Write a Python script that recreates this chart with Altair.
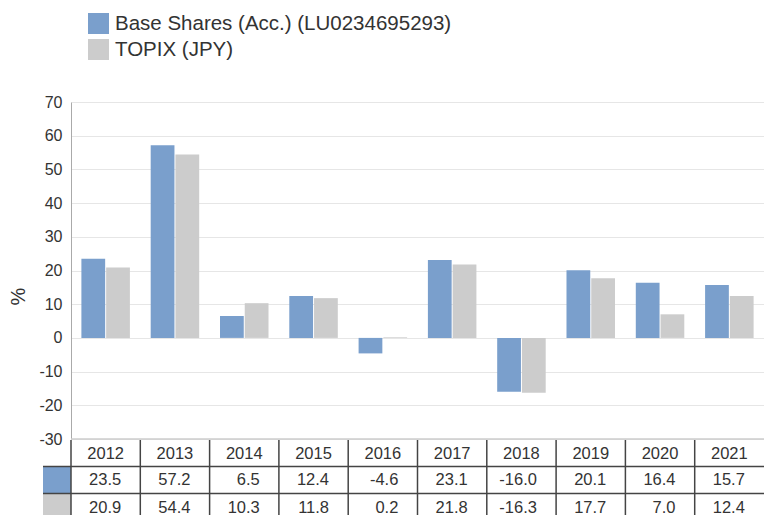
import altair as alt
import pandas as pd

years = ["2012", "2013", "2014", "2015", "2016", "2017", "2018", "2019", "2020", "2021"]
series_names = ["Base Shares (Acc.) (LU0234695293)", "TOPIX (JPY)"]
base_values = [23.5, 57.2, 6.5, 12.4, -4.6, 23.1, -16.0, 20.1, 16.4, 15.7]
topix_values = [20.9, 54.4, 10.3, 11.8, 0.2, 21.8, -16.3, 17.7, 7.0, 12.4]
y_ticks = [-30, -20, -10, 0, 10, 20, 30, 40, 50, 60, 70]

colors = ["#7a9fcc", "#cccccc"]
FONT = "Liberation Sans"
TXT = "#333333"
LINE = "#444444"

rows = []
for name, vals in zip(series_names, [base_values, topix_values]):
    for y, v in zip(years, vals):
        rows.append({"year": y, "series": name, "value": v})
df = pd.DataFrame(rows)
df_years = pd.DataFrame({"year": years})
df_base = pd.DataFrame({"year": years, "label": [f"{v:.1f}" for v in base_values]})
df_topix = pd.DataFrame({"year": years, "label": [f"{v:.1f}" for v in topix_values]})
one = pd.DataFrame({"a": [0]})

W = 693
H = 337

xscale = alt.Scale(paddingInner=0, paddingOuter=0)
yscale = alt.Scale(domain=[-30, 70], nice=False, zero=False)

bars = alt.Chart(df).mark_bar().encode(
    x=alt.X("year:N", sort=years, scale=xscale, axis=None),
    xOffset=alt.XOffset("series:N", sort=series_names,
                        scale=alt.Scale(paddingInner=0.04, paddingOuter=0.42)),
    y=alt.Y("value:Q", scale=yscale,
            axis=alt.Axis(values=y_ticks, tickCount=30, title="%", ticks=False, labelPadding=9,
                          labelOverlap=False, labelExpr="datum.value + ''",
                          labelFontSize=16, labelColor=TXT, labelFont=FONT,
                          domainColor="#aaaaaa", gridColor="#e6e6e6",
                          titleFont=FONT, titleFontSize=20, titleFontWeight="normal",
                          titleColor=TXT, titleX=-53, titleY=194,
                          titleBaseline="middle", titleAlign="center")),
    color=alt.Color("series:N", sort=series_names,
                    scale=alt.Scale(domain=series_names, range=colors),
                    legend=alt.Legend(orient="none", legendX=17, legendY=-89,
                                      title=None, symbolType="square",
                                      symbolSize=441, symbolStrokeWidth=0,
                                      labelFontSize=20.5, labelFont=FONT,
                                      labelColor=TXT, labelOffset=6,
                                      rowPadding=5, labelLimit=600, padding=0)),
)

bottom_rule = alt.Chart(df_years.head(1)).mark_rule(color="#cccccc", strokeWidth=1.5).encode(
    x=alt.value(0), x2=alt.value(W), y=alt.value(H)
)

year_text = alt.Chart(df_years).mark_text(font=FONT, fontSize=16.5, color=TXT,
                                          baseline="middle", align="center").encode(
    x=alt.X("year:N", sort=years),
    y=alt.value(351.5),
    text="year:N",
)

base_text = alt.Chart(df_base).mark_text(font=FONT, fontSize=16.5, color=TXT,
                                         baseline="middle", align="right", dx=15.5).encode(
    x=alt.X("year:N", sort=years),
    y=alt.value(377.5),
    text="label:N",
)

topix_text = alt.Chart(df_topix).mark_text(font=FONT, fontSize=16.5, color=TXT,
                                           baseline="middle", align="right", dx=15.5).encode(
    x=alt.X("year:N", sort=years),
    y=alt.value(405.5),
    text="label:N",
)

vlines = alt.Chart(df_years).mark_rule(color=LINE, strokeWidth=1.5).encode(
    x=alt.X("year:N", sort=years, bandPosition=0),
    y=alt.value(338),
    y2=alt.value(430),
)

hline1 = alt.Chart(one).mark_rule(color=LINE, strokeWidth=1.5).encode(
    x=alt.value(-28), x2=alt.value(W), y=alt.value(364.5)
)
hline2 = alt.Chart(one).mark_rule(color=LINE, strokeWidth=1.5).encode(
    x=alt.value(-28), x2=alt.value(W), y=alt.value(391.5)
)

sw1 = alt.Chart(one).mark_rect(color=colors[0]).encode(
    x=alt.value(-28), x2=alt.value(0), y=alt.value(365), y2=alt.value(391)
)
sw2 = alt.Chart(one).mark_rect(color=colors[1]).encode(
    x=alt.value(-28), x2=alt.value(0), y=alt.value(392), y2=alt.value(430)
)

chart = alt.layer(
    bars, bottom_rule, sw1, sw2, year_text, base_text, topix_text, vlines, hline1, hline2
).properties(
    width=W, height=H,
    autosize=alt.AutoSizeParams(type="none"),
    padding={"left": 63, "top": 94, "right": 0, "bottom": 81},
).configure_view(stroke=None)

chart.save("out.html", embed_options={"renderer": "svg", "actions": False})
